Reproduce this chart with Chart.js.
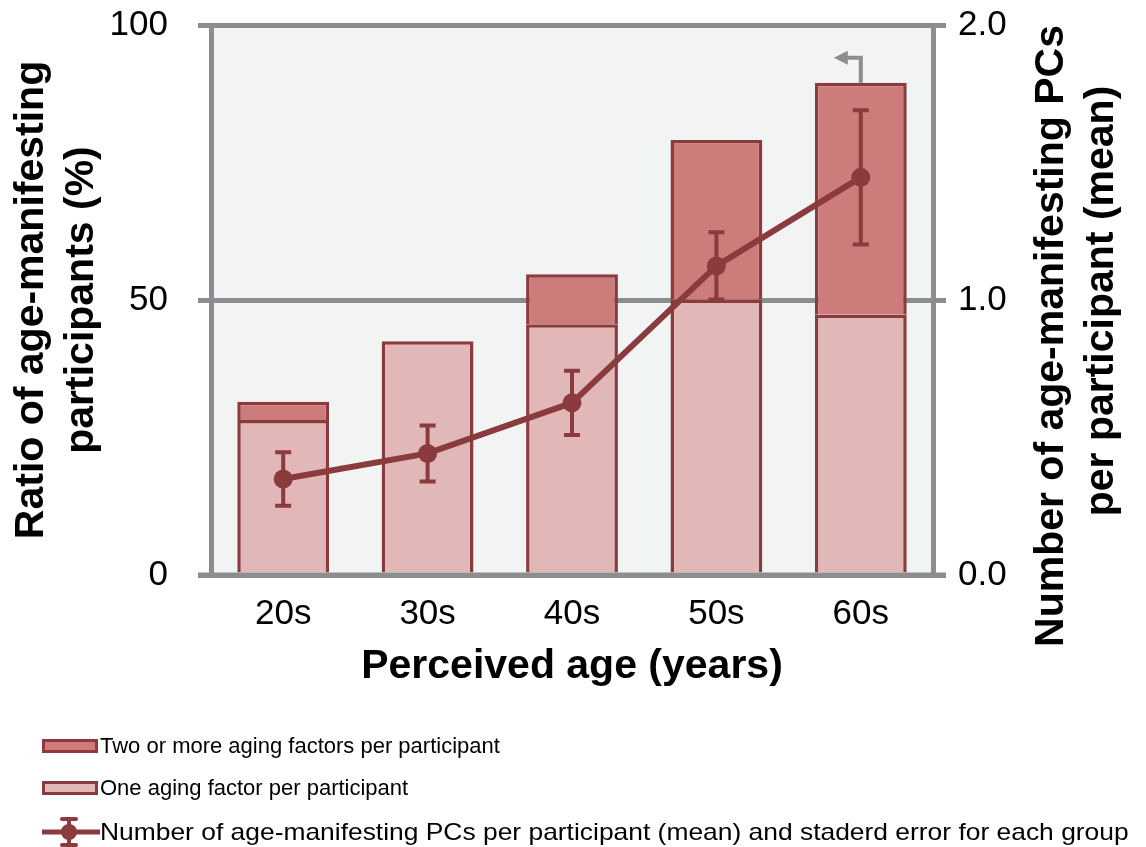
<!DOCTYPE html>
<html><head><meta charset="utf-8">
<script src="https://cdn.jsdelivr.net/npm/chart.js@4.4.0/dist/chart.umd.min.js"></script>
<style>
html,body{margin:0;padding:0;background:#fff;}
#wrap{position:relative;width:1146px;height:847px;overflow:hidden;}
#c{position:absolute;left:0;top:0;}
.leg{position:absolute;left:42px;height:30px;line-height:30px;font:22px "Liberation Sans",Arial,sans-serif;color:#000;display:flex;align-items:center;white-space:nowrap;}
.box{width:56px;height:14px;box-sizing:border-box;border:3px solid #8B3A3D;margin-right:2px;flex:none;}
.leg svg{margin-right:0;flex:none;}
.wide{font-size:24px;display:inline-block;transform:scaleX(1.1);transform-origin:0 50%;}
</style></head><body>
<div id="wrap">
<canvas id="c" width="1146" height="847"></canvas>
<div class="leg" style="top:731px"><div class="box" style="background:#CD7B7B"></div><span>Two or more aging factors per participant</span></div>
<div class="leg" style="top:773px"><div class="box" style="background:#E1B7B7"></div><span>One aging factor per participant</span></div>
<div class="leg" style="top:817px"><svg width="58" height="30" viewBox="0 0 58 30"><line x1="0" y1="15" x2="58" y2="15" stroke="#8B3A3D" stroke-width="5"/><line x1="27" y1="1" x2="27" y2="29" stroke="#8B3A3D" stroke-width="4"/><line x1="20" y1="2" x2="34" y2="2" stroke="#8B3A3D" stroke-width="4" stroke-linecap="round"/><line x1="20" y1="28" x2="34" y2="28" stroke="#8B3A3D" stroke-width="4" stroke-linecap="round"/><circle cx="27" cy="15" r="8" fill="#8B3A3D"/></svg><span class="wide">Number of age-manifesting PCs per participant (mean) and staderd error for each group</span></div>
</div>
<script>
// ---- data ----
const categories = ['20s', '30s', '40s', '50s', '60s'];
const oneFactor = [28.2, 42.5, 45.6, 50.1, 47.3];
const twoOrMore = [3.3, 0, 9.1, 29.0, 42.2];
const meanPCs = [0.349, 0.442, 0.626, 1.124, 1.446];
const stdErr = [0.097, 0.102, 0.117, 0.122, 0.244];
const leftTicks = [0, 50, 100];
const rightTicks = [0, 1, 2];
const leftTitle = ['Ratio of age-manifesting', 'participants (%)'];
const rightTitle = ['Number of age-manifesting PCs', 'per participant (mean)'];
const xTitle = 'Perceived age (years)';
const seriesNames = ['One aging factor per participant', 'Two or more aging factors per participant', 'Number of age-manifesting PCs per participant (mean) and staderd error for each group'];

// ---- styles ----
const FONT = '"Liberation Sans", Arial, sans-serif';
const DARK = '#8B3A3D';
const ONE = '#E1B7B7';
const TWO = '#CD7B7B';
const GRAY = '#8C8D90';
const BG = '#F2F4F3';

const bgPlugin = {
  id: 'bg',
  beforeDraw(chart) {
    const {ctx, chartArea: a} = chart;
    ctx.save();
    ctx.fillStyle = BG;
    ctx.fillRect(a.left, a.top, a.right - a.left, a.bottom - a.top);
    ctx.restore();
  }
};

const overlayPlugin = {
  id: 'overlay',
  afterDatasetsDraw(chart) {
    const ctx = chart.ctx;
    const y1 = chart.scales.y1;
    const y = chart.scales.y;
    const a = chart.chartArea;
    // baseline redraw over bars
    ctx.save();
    ctx.strokeStyle = GRAY;
    ctx.lineWidth = 5;
    const y0 = y.getPixelForValue(0);
    ctx.beginPath();
    ctx.moveTo(a.left - 13, y0);
    ctx.lineTo(a.right + 13, y0);
    ctx.stroke();
    ctx.restore();
    // error bars
    const lineMeta = chart.getDatasetMeta(2);
    ctx.save();
    ctx.strokeStyle = DARK;
    ctx.lineWidth = 4;
    lineMeta.data.forEach((pt, i) => {
      const yt = y1.getPixelForValue(meanPCs[i] + stdErr[i]);
      const yb = y1.getPixelForValue(meanPCs[i] - stdErr[i]);
      ctx.beginPath();
      ctx.moveTo(pt.x, yt); ctx.lineTo(pt.x, yb);
      ctx.moveTo(pt.x - 8, yt); ctx.lineTo(pt.x + 8, yt);
      ctx.moveTo(pt.x - 8, yb); ctx.lineTo(pt.x + 8, yb);
      ctx.stroke();
    });
    ctx.restore();
    // arrow from last bar pointing to left axis
    const barMeta = chart.getDatasetMeta(1);
    const el = barMeta.data[barMeta.data.length - 1];
    const ax = el.x, ay = el.y;
    ctx.save();
    ctx.strokeStyle = GRAY;
    ctx.fillStyle = GRAY;
    ctx.lineWidth = 4;
    ctx.beginPath();
    ctx.moveTo(ax, ay);
    ctx.lineTo(ax, ay - 25);
    ctx.lineTo(ax - 14, ay - 25);
    ctx.stroke();
    ctx.beginPath();
    ctx.moveTo(ax - 27, ay - 25);
    ctx.lineTo(ax - 13, ay - 32);
    ctx.lineTo(ax - 13, ay - 18);
    ctx.closePath();
    ctx.fill();
    ctx.restore();
  },
  afterDraw(chart) {
    const ctx = chart.ctx;
    const a = chart.chartArea;
    const mid = (a.top + a.bottom) / 2;
    const xs = [1052, 1102];
    const dy = [36, 1];
    ctx.save();
    ctx.font = 'bold 41px ' + FONT;
    ctx.fillStyle = '#000';
    ctx.textAlign = 'center';
    ctx.textBaseline = 'middle';
    rightTitle.forEach((line, i) => {
      ctx.save();
      ctx.translate(xs[i], mid + dy[i]);
      ctx.rotate(-Math.PI / 2);
      ctx.fillText(line, 0, 0);
      ctx.restore();
    });
    ctx.restore();
  }
};

new Chart(document.getElementById('c'), {
  data: {
    labels: categories,
    datasets: [
      {
        type: 'bar', label: seriesNames[0], data: oneFactor, yAxisID: 'y',
        backgroundColor: ONE, borderColor: DARK, borderWidth: 3.5, borderSkipped: 'start',
        categoryPercentage: 1, barPercentage: 0.636, order: 1, stack: 's'
      },
      {
        type: 'bar', label: seriesNames[1], data: twoOrMore, yAxisID: 'y',
        backgroundColor: TWO, borderColor: DARK, borderWidth: 3.5, borderSkipped: 'start',
        categoryPercentage: 1, barPercentage: 0.636, order: 1, stack: 's'
      },
      {
        type: 'line', label: seriesNames[2], data: meanPCs, yAxisID: 'y1',
        borderColor: DARK, borderWidth: 6, backgroundColor: DARK,
        pointRadius: 9.5, pointBackgroundColor: DARK, pointBorderWidth: 0,
        tension: 0, order: 0, fill: false
      }
    ]
  },
  options: {
    responsive: false,
    animation: false,
    devicePixelRatio: 1,
    layout: {padding: {top: 25, bottom: 147, left: 0, right: 0}},
    plugins: {legend: {display: false}, tooltip: {enabled: false}},
    scales: {
      x: {
        stacked: true,
        grid: {display: false, drawTicks: false},
        border: {display: false},
        ticks: {font: {size: 35, family: FONT}, color: '#000', padding: 18},
        title: {display: true, text: xTitle, color: '#000', font: {size: 41, weight: 'bold', family: FONT}, padding: {top: 0, bottom: 9}},
        afterFit: s => { s.height = 125; s.paddingLeft = 0; s.paddingRight = 0; }
      },
      y: {
        position: 'left', stacked: true, min: 0, max: 100,
        afterBuildTicks: s => { s.ticks = leftTicks.map(v => ({value: v})); },
        grid: {color: GRAY, lineWidth: 5, tickLength: 13, drawTicks: true},
        border: {display: true, color: GRAY, width: 5},
        ticks: {font: {size: 35, family: FONT}, color: '#000', padding: 30},
        title: {display: true, text: leftTitle, color: '#000', font: {size: 41, weight: 'bold', family: FONT, lineHeight: 1.22}, padding: {top: 7, bottom: 0}},
        afterFit: s => { s.width = 211; s.paddingTop = 0; s.paddingBottom = 0; }
      },
      y1: {
        position: 'right', min: 0, max: 2,
        afterBuildTicks: s => { s.ticks = rightTicks.map(v => ({value: v})); },
        grid: {drawOnChartArea: false, color: GRAY, lineWidth: 5, tickLength: 13, drawTicks: true},
        border: {display: true, color: GRAY, width: 5},
        ticks: {font: {size: 35, family: FONT}, color: '#000', padding: 12, callback: v => Number(v).toFixed(1)},
        afterFit: s => { s.width = 213; s.paddingTop = 0; s.paddingBottom = 0; }
      }
    }
  },
  plugins: [bgPlugin, overlayPlugin]
});
</script>
</body></html>
